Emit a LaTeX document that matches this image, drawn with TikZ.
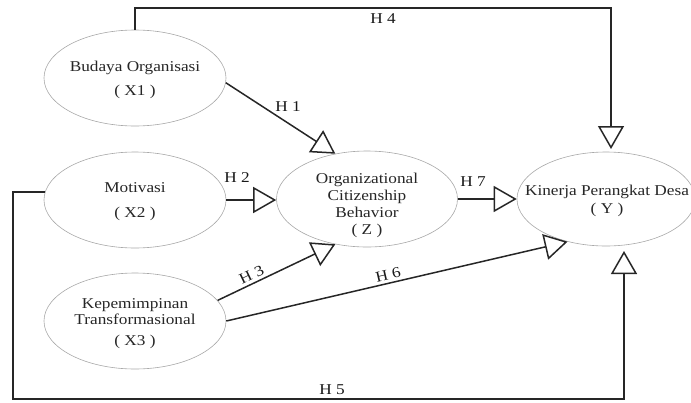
\documentclass[tikz,border=0pt]{standalone}
\usepackage{fontspec}
\setmainfont[FakeStretch=1.15]{Liberation Serif}
\usetikzlibrary{arrows.meta,shapes.geometric}
\definecolor{txtgray}{HTML}{262626}
\definecolor{ringgray}{HTML}{A8A8A8}
\tikzset{
  varnode/.style={ellipse, draw=ringgray, line width=0.6pt, minimum width=182pt, minimum height=96pt, inner sep=0pt},
  vartext/.style={align=center, text=txtgray, inner sep=0pt, font=\fontsize{15}{17}\selectfont},
  conn/.style={line width=1.5pt, draw=black!85, -{Triangle[open, length=23pt, width=26pt, line width=1.5pt]}},
  hlab/.style={font=\fontsize{15}{17}\selectfont, text=black!90, inner sep=1pt},
}
\begin{document}
\begin{tikzpicture}[x=1pt,y=-1pt]
\useasboundingbox (0,0) rectangle (691,402);
\node[varnode] (x1) at (135,78) {};
\node[varnode] (x2) at (135,200) {};
\node[varnode] (x3) at (135,321) {};
\node[varnode, minimum width=181pt] (z) at (367,199) {};
\node[varnode, minimum width=178pt, minimum height=94pt] (y) at (606,199) {};

\node[vartext] (x1t) at (135,80) {Budaya Organisasi\\[7pt]( X1 )};
\node[vartext] (x2t) at (135,202) {Motivasi\\[8pt]( X2 )};
\node[vartext] (x3t) at (135,324) {Kepemimpinan\\[-1pt]Transformasional\\[4pt]( X3 )};
\node[vartext] (zt) at (367,205) {Organizational\\Citizenship\\Behavior\\( Z )};
\node[vartext] (yt) at (607,201) {Kinerja Perangkat Desa\\[1pt]( Y )};

% H1
\draw[conn] (x1.-3) -- (z.125);
\node[hlab] (l1) at (288,107) {H 1};
% H2
\draw[conn] (x2.east) -- (x2.east -| z.west);
\node[hlab] (l2) at (237,178) {H 2};
% H7
\draw[conn] (z.east) -- (z.east -| y.west);
\node[hlab] (l7) at (473,182) {H 7};
% H4
\coordinate (c4) at (611,8);
\draw[conn] (x1.north) |- (c4) -- (611,149);
\node[hlab] (l4) at (383,19) {H 4};
% H5
\coordinate (c5a) at (13,399);
\coordinate (c5b) at (624,399);
\coordinate (c5t) at (624,251);
\draw[conn] (x2.175) -| (c5a) -- (c5b) -- (c5t);
\node[hlab] (l5) at (332,390) {H 5};
% H3
\draw[conn] (x3.14) -- (z.235) node[hlab, pos=0.32, above=2pt, sloped] (l3) {H 3};
% H6
\draw[conn] (x3.east) -- (y.228) node[hlab, pos=0.48, above=2pt, sloped] (l6) {H 6};
\end{tikzpicture}
\end{document}
